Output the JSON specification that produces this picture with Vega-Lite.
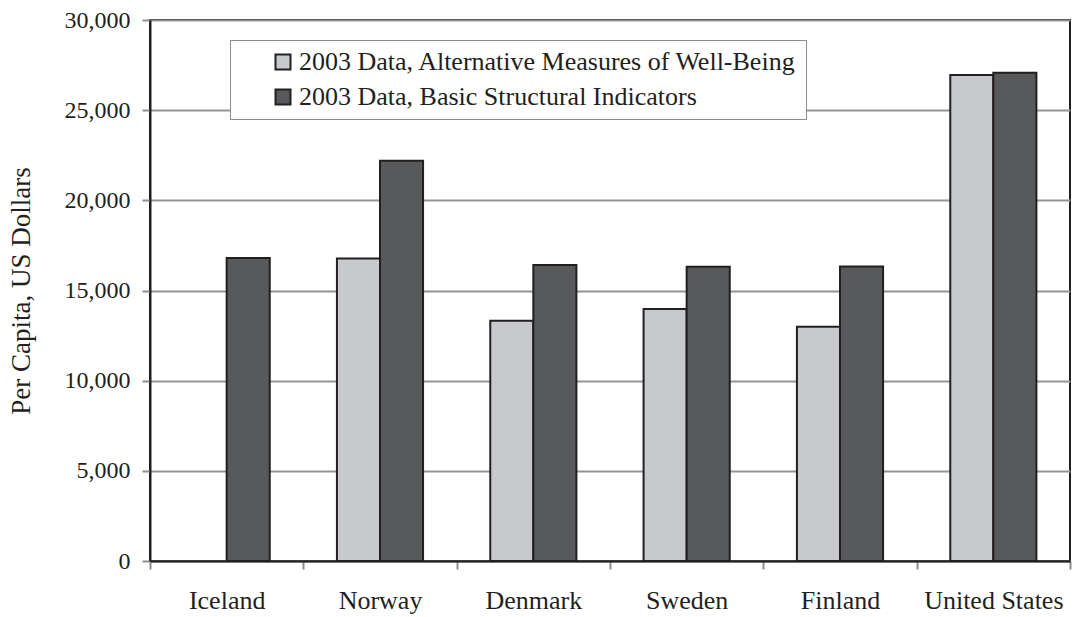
{
  "$schema": "https://vega.github.io/schema/vega-lite/v6.json",
  "width": 920,
  "height": 541,
  "autosize": {"type": "none"},
  "padding": {"left": 150, "top": 20, "right": 6, "bottom": 56},
  "background": "white",
  "config": {
    "font": "Liberation Serif",
    "view": {"stroke": "#231f20", "strokeWidth": 2},
    "legend": {"strokeColor": "#8c8c8c"}
  },
  "data": {
    "values": [
      {"country": "Iceland", "series": "2003 Data, Basic Structural Indicators", "value": 16800},
      {"country": "Norway", "series": "2003 Data, Alternative Measures of Well-Being", "value": 16770},
      {"country": "Norway", "series": "2003 Data, Basic Structural Indicators", "value": 22200},
      {"country": "Denmark", "series": "2003 Data, Alternative Measures of Well-Being", "value": 13320},
      {"country": "Denmark", "series": "2003 Data, Basic Structural Indicators", "value": 16420},
      {"country": "Sweden", "series": "2003 Data, Alternative Measures of Well-Being", "value": 13980},
      {"country": "Sweden", "series": "2003 Data, Basic Structural Indicators", "value": 16320},
      {"country": "Finland", "series": "2003 Data, Alternative Measures of Well-Being", "value": 12990},
      {"country": "Finland", "series": "2003 Data, Basic Structural Indicators", "value": 16330},
      {"country": "United States", "series": "2003 Data, Alternative Measures of Well-Being", "value": 26950},
      {"country": "United States", "series": "2003 Data, Basic Structural Indicators", "value": 27080}
    ]
  },
  "mark": {"type": "bar", "stroke": "#231f20", "strokeWidth": 2},
  "encoding": {
    "x": {
      "field": "country",
      "type": "nominal",
      "sort": ["Iceland", "Norway", "Denmark", "Sweden", "Finland", "United States"],
      "scale": {"paddingInner": 0, "paddingOuter": 0},
      "axis": {
        "title": null,
        "labelAngle": 0,
        "labelFontSize": 26,
        "labelColor": "#231f20",
        "labelPadding": 18,
        "tickBand": "extent",
        "tickColor": "#8c8c8c",
        "tickWidth": 2,
        "tickSize": 8,
        "domainColor": "#231f20",
        "domainWidth": 2,
        "grid": false
      }
    },
    "xOffset": {
      "field": "series",
      "type": "nominal",
      "sort": ["2003 Data, Alternative Measures of Well-Being", "2003 Data, Basic Structural Indicators"],
      "scale": {"paddingInner": 0, "paddingOuter": 0.78}
    },
    "y": {
      "field": "value",
      "type": "quantitative",
      "scale": {"domain": [0, 30000], "nice": false},
      "axis": {
        "title": "Per Capita, US Dollars",
        "titleFontSize": 27,
        "titleFontWeight": "normal",
        "titleColor": "#231f20",
        "titlePadding": 29,
        "values": [0, 5000, 10000, 15000, 20000, 25000, 30000],
        "format": ",d",
        "labelFontSize": 24,
        "labelColor": "#231f20",
        "labelPadding": 12,
        "tickColor": "#8c8c8c",
        "tickWidth": 2,
        "tickSize": 8,
        "domainColor": "#231f20",
        "domainWidth": 2,
        "gridColor": "#939393",
        "gridWidth": 2
      }
    },
    "color": {
      "field": "series",
      "type": "nominal",
      "sort": ["2003 Data, Alternative Measures of Well-Being", "2003 Data, Basic Structural Indicators"],
      "scale": {
        "domain": ["2003 Data, Alternative Measures of Well-Being", "2003 Data, Basic Structural Indicators"],
        "range": ["#c8c9cc", "#58595b"]
      },
      "legend": {
        "title": null,
        "orient": "none",
        "legendX": 80,
        "legendY": 20,
        "strokeColor": "#8c8c8c",
        "fillColor": "white",
        "padding": 9,
        "symbolOffset": 31,
        "symbolType": "square",
        "symbolSize": 225,
        "symbolStrokeColor": "#231f20",
        "symbolStrokeWidth": 2,
        "labelFontSize": 26,
        "labelColor": "#231f20",
        "labelOffset": 3,
        "labelLimit": 800,
        "rowPadding": 9
      }
    }
  }
}
